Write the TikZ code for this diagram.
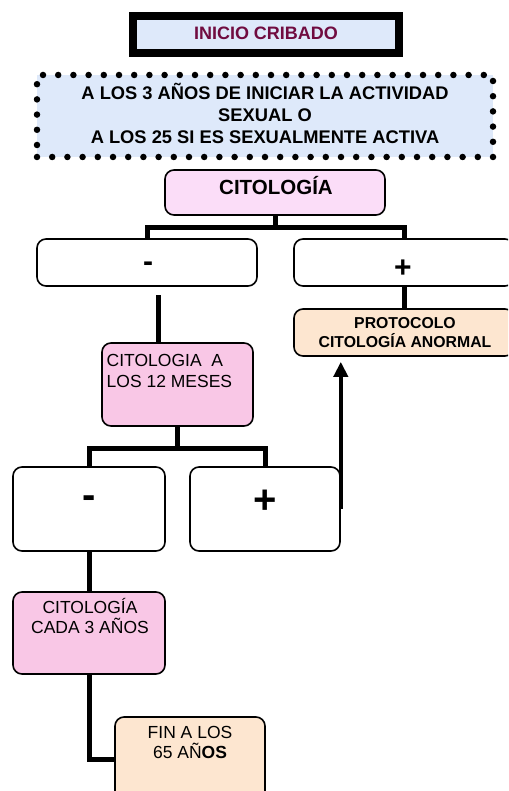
\documentclass[tikz,border=0pt]{standalone}
\usepackage{fontspec}
\setmainfont{Liberation Sans}
\usetikzlibrary{arrows.meta,backgrounds}
\definecolor{maroonT}{RGB}{112,12,64}
\definecolor{blueF}{RGB}{222,233,250}
\definecolor{lavF}{RGB}{251,221,248}
\definecolor{pinkF}{RGB}{249,199,230}
\definecolor{peachF}{RGB}{253,230,208}
\tikzset{
  bx/.style={draw=black, line width=1.6pt, rounded corners=9pt, inner sep=0pt, fill=white},
  conn/.style={line width=5pt},
  arr/.style={line width=4pt, -{Triangle[length=15pt,width=14pt]}},
  txt/.style={inner sep=0pt, anchor=base, align=center},
  txtb/.style={txt, font=\fontsize{#1}{#1}\selectfont\bfseries},
}
\begin{document}
\begin{tikzpicture}[x=1pt,y=-1pt]
\useasboundingbox (0,0) rectangle (508,791);
\clip (0,0) rectangle (508,791);
% top boxes
\node[draw=black, line width=8pt, fill=blueF, inner sep=0pt, minimum width=266pt, minimum height=37pt] (inicio) at (266,34.5) {};
\node[txtb=18, text=maroonT] (inicioT) at (266,39.5) {INICIO CRIBADO};
\node[fill=blueF, draw=black, line width=6.5pt, line cap=round, dash pattern=on 0pt off 15.2pt, inner sep=0pt, minimum width=456pt, minimum height=82pt] (edad) at (265,116) {};
% multi-line nodes: base = baseline of the last line
\node[txt, font=\fontsize{18.3}{22}\selectfont\bfseries] (edadT) at (265,143.6) {A LOS 3 AÑOS DE INICIAR LA ACTIVIDAD\\SEXUAL O\\A LOS 25 SI ES SEXUALMENTE ACTIVA};
% level 1
\node[bx, fill=lavF, minimum width=220pt, minimum height=45pt] (cito) at (275,192.5) {};
\node[txtb=20.5] (citoT) at (276,194.5) {CITOLOGÍA};
\node[bx, minimum width=220pt, minimum height=47pt] (minus1) at (147,262.5) {};
\node[txtb=30] (minus1T) at (148,271.4) {-};
\node[bx, minimum width=220pt, minimum height=47pt] (plus1) at (404,262.5) {};
\node[txtb=30] (plus1T) at (403,277.5) {+};
\node[bx, fill=peachF, minimum width=220pt, minimum height=47pt] (proto) at (404,332.5) {};
\node[txt, font=\fontsize{15.8}{19}\selectfont\bfseries] (protoT) at (405,347.7) {PROTOCOLO\\CITOLOGÍA ANORMAL};
% level 2
\node[bx, fill=pinkF, minimum width=151pt, minimum height=83pt] (cito12) at (177.5,384.5) {};
\node[txt, anchor=base west, align=left, font=\fontsize{17.5}{21}\selectfont] (cito12T) at (106.5,387.5) {CITOLOGIA\ \ A\\LOS 12 MESES};
\node[bx, minimum width=152pt, minimum height=84pt] (minus2) at (89,509) {};
\node[txtb=40] (minus2T) at (89,508) {-};
\node[bx, minimum width=150pt, minimum height=84pt] (plus2) at (265,509) {};
\node[txtb=40] (plus2T) at (265,513) {+};
% level 3
\node[bx, fill=pinkF, minimum width=152pt, minimum height=82pt] (cito3) at (89,633) {};
\node[txt, font=\fontsize{17.5}{20}\selectfont] (cito3T) at (90,633) {CITOLOGÍA\\CADA 3 AÑOS};
\node[bx, fill=peachF, minimum width=150pt, minimum height=84pt] (fin) at (190,759) {};
\node[txt, font=\fontsize{17.5}{20}\selectfont] (finT) at (190,758) {FIN A LOS\\65 AÑ\textbf{OS}};
% connectors
\coordinate (bar1) at (0,228);
\coordinate (bar2) at (0,448);
\coordinate (s1) at (158,295);
\begin{scope}[on background layer]
\draw[conn] (cito.south) -- (cito.south |- bar1);
\draw[conn] (minus1.north) -- (minus1.north |- bar1) -- (plus1.north |- bar1) -- (plus1.north);
\draw[conn] (s1) -- (s1 |- cito12.north);
\draw[conn] (plus1.south) -- (proto.north);
\draw[conn] (cito12.south) -- (cito12.south |- bar2);
\draw[conn] (minus2.north) -- (minus2.north |- bar2) -- (plus2.north |- bar2) -- (plus2.north);
\draw[conn] (minus2.south) -- (cito3.north);
\draw[conn] (cito3.south) |- (fin.west);
\end{scope}
\draw[arr, shorten >=5pt] (plus2.east) -- (proto.south -| plus2.east);
\end{tikzpicture}
\end{document}
